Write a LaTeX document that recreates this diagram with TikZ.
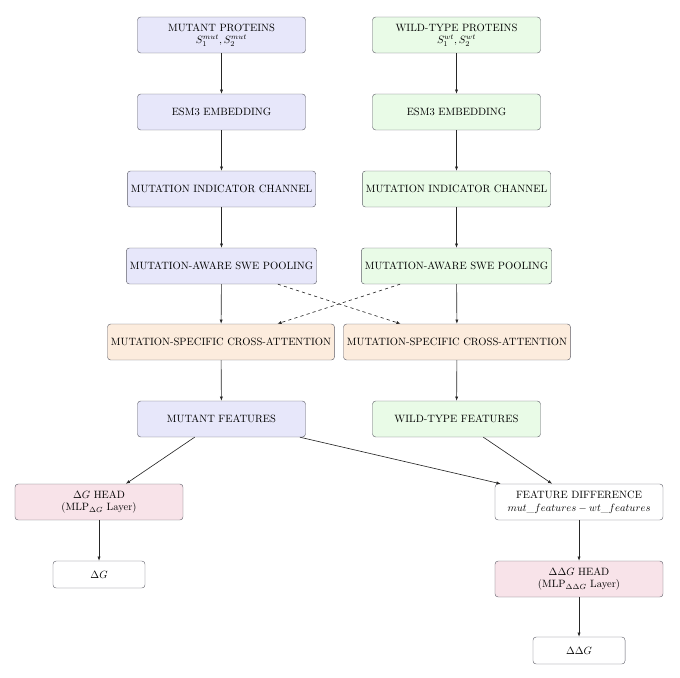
\documentclass[tikz,border=0pt]{standalone}
\usetikzlibrary{arrows.meta}
\definecolor{mutfill}{RGB}{231,231,250}
\definecolor{wtfill}{RGB}{233,251,231}
\definecolor{cafill}{RGB}{252,236,221}
\definecolor{headfill}{RGB}{248,227,233}
\definecolor{edgegray}{RGB}{95,95,105}
\tikzset{
  box/.style={draw=edgegray, rounded corners=3pt, minimum width=158.8pt, minimum height=34pt, align=center, inner sep=3.33pt, font=\normalsize},
  mutbox/.style={box, fill=mutfill},
  wtbox/.style={box, fill=wtfill},
  cabox/.style={box, fill=cafill},
  headbox/.style={box, fill=headfill},
  plainbox/.style={box, fill=white},
  resbox/.style={draw=edgegray, rounded corners=3pt, minimum width=87pt, minimum height=25.5pt, fill=white, align=center},
  arr/.style={-{Latex[length=4pt,width=3pt]}, draw=black!85, line width=0.6pt},
  darr/.style={arr, dashed}
}
\begin{document}
\begin{tikzpicture}[x=0.945pt, y=-0.945pt]
\useasboundingbox (0,0) rectangle (680,677);
% left column
\node[mutbox] (mp) at (221.5,35) {MUTANT PROTEINS\\$S_1^{mut}, S_2^{mut}$};
\node[mutbox] (me) at (221.5,112) {ESM3 EMBEDDING};
\node[mutbox] (mi) at (221.5,189) {MUTATION INDICATOR CHANNEL};
\node[mutbox] (ms) at (221.5,266) {MUTATION-AWARE SWE POOLING};
\node[cabox] (mc) at (221,342) {MUTATION-SPECIFIC CROSS-ATTENTION};
\node[mutbox] (mf) at (221.5,419) {MUTANT FEATURES};
% right column
\node[wtbox] (wp) at (456.5,35) {WILD-TYPE PROTEINS\\$S_1^{wt}, S_2^{wt}$};
\node[wtbox] (we) at (456.5,112) {ESM3 EMBEDDING};
\node[wtbox] (wi) at (456.5,189) {MUTATION INDICATOR CHANNEL};
\node[wtbox] (ws) at (456.5,266) {MUTATION-AWARE SWE POOLING};
\node[cabox] (wc) at (457,342) {MUTATION-SPECIFIC CROSS-ATTENTION};
\node[wtbox] (wf) at (456.5,419) {WILD-TYPE FEATURES};
% heads
\node[headbox] (gh) at (99,502) {$\Delta G$ HEAD\\(MLP$_{\Delta G}$ Layer)};
\node[resbox] (g) at (99,574.5) {$\Delta G$};
\node[plainbox] (fd) at (579,502) {FEATURE DIFFERENCE\\$mut\_features - wt\_features$};
\node[headbox] (ggh) at (579,579) {$\Delta\Delta G$ HEAD\\(MLP$_{\Delta\Delta G}$ Layer)};
\node[resbox] (gg) at (579,650.5) {$\Delta\Delta G$};
% connectors
\draw[arr] (mp) -- (me);
\draw[arr] (me) -- (mi);
\draw[arr] (mi) -- (ms);
\draw[arr] (ms) -- (mc);
\draw[arr] (mc) -- (mf);
\draw[arr] (wp) -- (we);
\draw[arr] (we) -- (wi);
\draw[arr] (wi) -- (ws);
\draw[arr] (ws) -- (wc);
\draw[arr] (wc) -- (wf);
\draw[darr] (ms) -- (wc);
\draw[darr] (ws) -- (mc);
\draw[arr] (mf) -- (gh);
\draw[arr] (mf) -- (fd);
\draw[arr] (wf) -- (fd);
\draw[arr] (gh) -- (g);
\draw[arr] (fd) -- (ggh);
\draw[arr] (ggh) -- (gg);
\end{tikzpicture}
\end{document}
